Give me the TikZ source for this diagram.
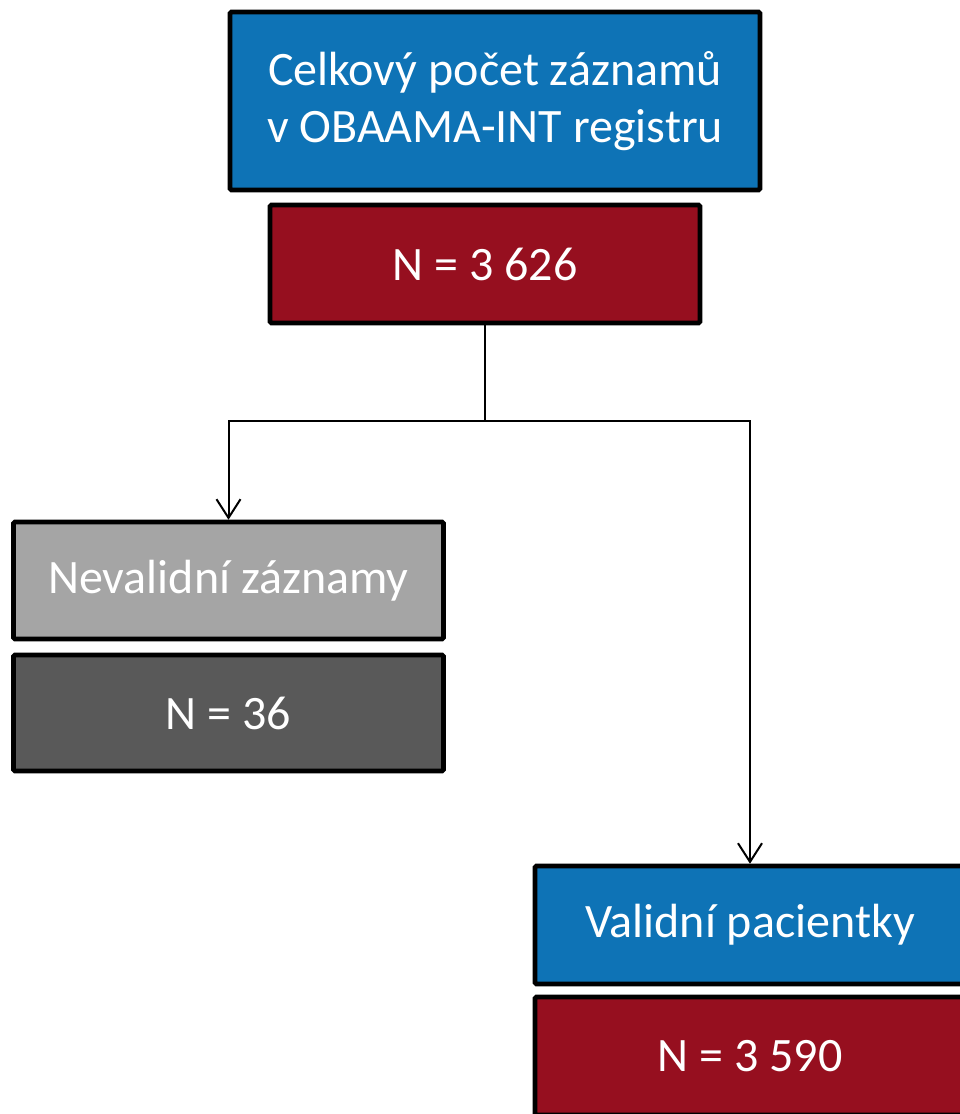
\documentclass[tikz,border=0pt]{standalone}
\usepackage{fontspec}
\setmainfont{Carlito}
\usetikzlibrary{arrows.meta}
\definecolor{boxblue}{HTML}{0E73B6}
\definecolor{boxred}{HTML}{960F1F}
\definecolor{boxgray}{HTML}{A5A5A5}
\definecolor{boxdark}{HTML}{595959}
\tikzset{
  fbox/.style={draw=black, line width=3.4pt, rounded corners=1pt, text=white,
    font=\fontsize{36pt}{43pt}\selectfont, align=center, inner sep=0pt,
    minimum width=#1},
  fbox/.default={430*0.75pt},
  conn/.style={line width=1.5pt, black},
  arr/.style={conn, -{Straight Barb[length=14pt, width=18pt, line width=1.5pt]}}
}
\begin{document}
\begin{tikzpicture}[x=0.75pt, y=-0.75pt]
\clip (0,0) rectangle (960,1114);
\fill[white] (0,0) rectangle (960,1114);
\node[fbox=530*0.75pt, fill=boxblue, minimum height=178*0.75pt] (total) at (495,101)
  {Celkový počet záznamů\\ v OBAAMA-INT registru};
\node[fbox, fill=boxred, minimum height=118*0.75pt] (ntotal) at (485,264) {N = 3 626};
\node[fbox, fill=boxgray, minimum height=117*0.75pt] (inval) at (228.5,580.5) {Nevalidní záznamy};
\node[fbox, fill=boxdark, minimum height=116*0.75pt] (ninval) at (228.5,713) {N = 36};
\node[fbox, fill=boxblue, minimum height=118*0.75pt] (valid) at (750,925) {Validní pacientky};
\node[fbox, fill=boxred, minimum height=118*0.75pt] (nvalid) at (750,1056) {N = 3 590};
\coordinate (split) at (485,421);
\draw[conn] (ntotal.south) -- (split);
\draw[arr] (split) -| (inval.north);
\draw[arr] (split) -| (valid.north);
\end{tikzpicture}
\end{document}
